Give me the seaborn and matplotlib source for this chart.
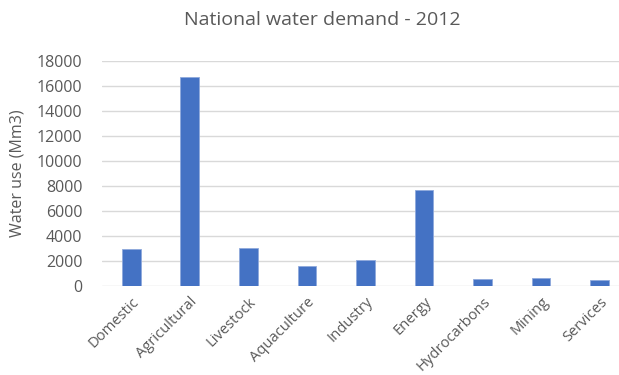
import matplotlib
matplotlib.use("Agg")
import matplotlib.pyplot as plt
import seaborn as sns
import pandas as pd

categories = ["Domestic", "Agricultural", "Livestock", "Aquaculture", "Industry",
              "Energy", "Hydrocarbons", "Mining", "Services"]
water_use = [2960, 16700, 3010, 1630, 2060, 7710, 590, 640, 510]
y_ticks = [0, 2000, 4000, 6000, 8000, 10000, 12000, 14000, 16000, 18000]

sns.set_theme(style="white")
plt.rcParams['font.family'] = ['Open Sans', 'DejaVu Sans']

df = pd.DataFrame({"category": categories, "value": water_use})

fig = plt.figure(figsize=(6.19, 3.75), dpi=100)
ax = fig.add_axes([102/619, 1 - 286/375, 1 - 102/619, 225/375])

sns.barplot(data=df, x="category", y="value", color="#4472C4", width=0.32,
            saturation=1, ax=ax, zorder=3, edgecolor="#8fa9dc", linewidth=0.6)

ax.set_ylim(0, 18000)
ax.set_yticks(y_ticks)
ax.set_yticklabels([str(t) for t in y_ticks])
ax.set_xlim(-0.5, 8.33)
for s in ax.spines.values():
    s.set_visible(False)
ax.grid(axis="y", color="#d9d9d9", linewidth=1, zorder=0)
ax.set_axisbelow(True)
ax.tick_params(axis="both", length=0, colors="#595959", labelsize=11.5)
ax.tick_params(axis="y", pad=14)
ax.tick_params(axis="x", labelsize=10.6, pad=6)
ax.set_xlabel("")
ax.set_ylabel("Water use (Mm3)", color="#595959", fontsize=11.5, labelpad=8)
plt.setp(ax.get_xticklabels(), rotation=45, ha="right", rotation_mode="anchor")

fig.suptitle("National water demand - 2012", x=(178 + 467) / 2 / 619, y=1 - 11/375,
             va="top", color="#595959", fontsize=14)

fig.savefig("out.png", dpi=100)
